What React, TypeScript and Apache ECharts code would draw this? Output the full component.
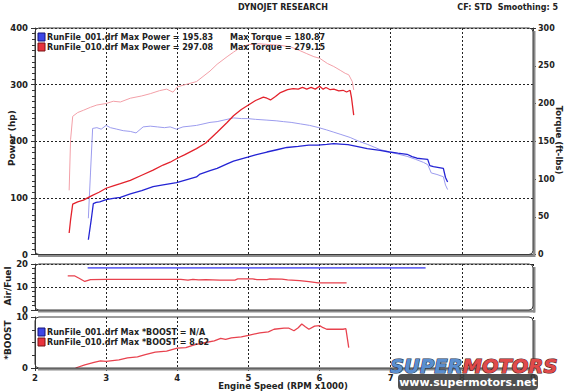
import React, { useEffect, useRef } from "react";
import * as echarts from "echarts";

// ---- data (RPM x1000, value) ----
const run001Power: [number, number][] = [
  [2.75, 26], [2.79, 61], [2.82, 90], [2.86, 92], [2.91, 93], [3.0, 97], [3.1, 99], [3.2, 101],
  [3.34, 107], [3.5, 113], [3.66, 120], [3.8, 123], [3.99, 127], [4.1, 131], [4.27, 137],
  [4.32, 142], [4.46, 148], [4.56, 152], [4.7, 160], [4.79, 165], [4.99, 172], [5.1, 176],
  [5.26, 181], [5.4, 185], [5.54, 189], [5.7, 191], [5.85, 193], [5.98, 193], [6.1, 194.5],
  [6.2, 195.8], [6.29, 195], [6.4, 194], [6.52, 191], [6.67, 187], [6.85, 184], [6.98, 181],
  [7.1, 179], [7.23, 177], [7.3, 173], [7.37, 170], [7.45, 169], [7.52, 168], [7.55, 157],
  [7.6, 155], [7.7, 153], [7.74, 152], [7.77, 136], [7.8, 128],
];
const run001Torque: [number, number][] = [
  [2.75, 48], [2.78, 108], [2.81, 167], [2.87, 168], [2.93, 166], [3.0, 171], [3.06, 168],
  [3.15, 166], [3.24, 164], [3.34, 163], [3.42, 161], [3.52, 169], [3.62, 170], [3.72, 169],
  [3.82, 168], [3.9, 169], [3.99, 166], [4.08, 169], [4.18, 170], [4.27, 171], [4.32, 172],
  [4.46, 175], [4.56, 176], [4.7, 179], [4.79, 180.9], [4.9, 180], [4.99, 180], [5.1, 179],
  [5.26, 178], [5.4, 177], [5.49, 176], [5.6, 175], [5.73, 173], [5.86, 171], [5.99, 168],
  [6.1, 165], [6.2, 162], [6.3, 159], [6.43, 155], [6.55, 150], [6.67, 146], [6.85, 139],
  [6.98, 136], [7.1, 133], [7.23, 130], [7.35, 126], [7.46, 122], [7.52, 119], [7.57, 108],
  [7.65, 106], [7.74, 103], [7.77, 92], [7.8, 86],
];
const run010Power: [number, number][] = [
  [2.48, 38], [2.5, 61], [2.53, 89], [2.6, 93], [2.68, 96], [2.8, 104], [2.9, 110], [3.0, 117],
  [3.1, 121], [3.2, 125], [3.34, 131], [3.5, 140], [3.66, 149], [3.8, 158], [3.9, 163],
  [4.0, 170], [4.1, 176], [4.27, 187], [4.4, 197], [4.56, 216], [4.7, 233], [4.79, 245],
  [4.9, 256], [5.0, 264], [5.1, 272], [5.21, 278], [5.26, 276], [5.31, 273], [5.38, 279],
  [5.45, 286], [5.55, 291], [5.63, 293], [5.7, 292], [5.76, 295], [5.82, 292], [5.88, 295],
  [5.94, 292], [6.0, 297.1], [6.05, 292], [6.09, 295], [6.15, 291], [6.2, 292], [6.27, 289],
  [6.33, 290], [6.38, 287], [6.43, 290], [6.45, 276], [6.48, 246],
];
const run010Torque: [number, number][] = [
  [2.48, 85], [2.5, 152], [2.53, 183], [2.6, 188], [2.68, 191], [2.78, 195], [2.87, 198],
  [3.0, 200], [3.1, 203], [3.2, 202], [3.34, 207], [3.5, 210], [3.62, 213], [3.75, 217],
  [3.85, 219], [3.94, 215], [4.0, 222], [4.15, 226], [4.27, 229], [4.46, 243], [4.56, 252],
  [4.7, 262], [4.79, 268], [4.9, 275], [5.0, 278], [5.15, 279.1], [5.3, 278], [5.45, 277],
  [5.59, 275], [5.7, 271], [5.82, 266], [5.92, 262], [6.0, 260], [6.11, 253], [6.2, 249],
  [6.29, 244], [6.36, 240], [6.41, 238], [6.46, 229], [6.48, 218],
];
const run001AirFuel: [number, number][] = [[2.74, 18.3], [7.49, 18.3]];
const run010AirFuel: [number, number][] = [
  [2.46, 14.8], [2.56, 14.8], [2.62, 13.8], [2.7, 12.4], [2.78, 13.2], [3.0, 13.3], [3.5, 13.3],
  [4.05, 13.3], [4.15, 13.0], [4.22, 13.3], [4.3, 13.1], [4.4, 13.2], [4.6, 13.0], [4.81, 13.0],
  [4.85, 13.5], [5.06, 13.5], [5.12, 13.2], [5.26, 13.2], [5.3, 13.5], [5.47, 13.4], [5.55, 13.1],
  [5.72, 12.8], [5.85, 12.3], [5.98, 11.8], [6.38, 11.8],
];
const run010Boost: [number, number][] = [
  [2.57, 0], [2.7, 0.6], [2.83, 1.1], [2.92, 1.4], [3.0, 1.3], [3.18, 1.6], [3.3, 2.0],
  [3.44, 2.2], [3.55, 2.6], [3.69, 3.1], [3.85, 3.3], [4.0, 3.9], [4.12, 4.0], [4.25, 4.6],
  [4.4, 5.0], [4.52, 5.3], [4.61, 5.8], [4.68, 5.6], [4.76, 5.9], [4.9, 6.1], [5.0, 6.4],
  [5.16, 6.9], [5.28, 7.1], [5.36, 7.6], [5.5, 7.8], [5.57, 7.8], [5.64, 7.3], [5.7, 7.9],
  [5.75, 8.62], [5.8, 8.1], [5.85, 7.6], [5.93, 8.2], [6.0, 8.3], [6.05, 7.9], [6.1, 7.6],
  [6.25, 7.6], [6.33, 7.6], [6.37, 7.7], [6.41, 4.0],
];

const legendMain = [
  "RunFile_001.drf Max Power = 195.83",
  "RunFile_010.drf Max Power = 297.08",
];
const legendTorque = ["Max Torque = 180.87", "Max Torque = 279.15"];
const legendBoost = [
  "RunFile_001.drf Max *BOOST = N/A",
  "RunFile_010.drf Max *BOOST = 8.62",
];

const FONT = "DejaVu Sans";
const TXT = "#222";
const DARK_RED = "#e3222c";
const LIGHT_RED = "#f3a0a8";
const DARK_BLUE = "#2424d4";
const LIGHT_BLUE = "#9c9cee";

const panels = [
  { x: 35, y: 28, w: 498, h: 226.5 },
  { x: 35, y: 264, w: 498, h: 46 },
  { x: 35, y: 317, w: 498, h: 51 },
];

function buildOption() {
  const labelStyle = { fontFamily: FONT, fontSize: 8.5, fontWeight: "bold" as const, color: TXT };
  const dash = { color: "#222", type: [2, 2] as any, width: 1 };

  const xAxis = panels.map((_, i) => ({
    type: "value",
    gridIndex: i,
    min: 2,
    max: 9,
    interval: 1,
    axisLine: { show: true, lineStyle: { color: "#333" } },
    axisTick: { show: i === 2, length: 3, lineStyle: { color: "#333" } },
    minorTick: { show: i === 2, splitNumber: 10, length: 2, lineStyle: { color: "#555" } },
    axisLabel: { show: i === 2, margin: 5, ...labelStyle },
    splitLine: { show: true, lineStyle: dash },
  }));

  const yAxis = [
    {
      type: "value", gridIndex: 0, min: 0, max: 400, interval: 100, position: "left",
      axisLine: { show: true, lineStyle: { color: "#333" } },
      axisTick: { show: true, length: 4, lineStyle: { color: "#333" } },
      minorTick: { show: true, splitNumber: 10, length: 3, lineStyle: { color: "#333" } },
      axisLabel: { margin: 7, ...labelStyle },
      splitLine: { show: true, lineStyle: dash },
    },
    {
      type: "value", gridIndex: 0, min: 0, max: 300, interval: 50, position: "right",
      axisLine: { show: true, lineStyle: { color: "#333" } },
      axisTick: { show: true, length: 3, lineStyle: { color: "#333" } },
      minorTick: { show: true, splitNumber: 5, length: 2, lineStyle: { color: "#333" } },
      axisLabel: { margin: 5, ...labelStyle, fontSize: 8 },
      splitLine: { show: false },
    },
    {
      type: "value", gridIndex: 1, min: 0, max: 20, interval: 10, position: "left",
      axisLine: { show: true, lineStyle: { color: "#333" } },
      axisTick: { show: true, length: 4, lineStyle: { color: "#333" } },
      minorTick: { show: true, splitNumber: 5, length: 3, lineStyle: { color: "#333" } },
      axisLabel: { margin: 7, ...labelStyle },
      splitLine: { show: true, lineStyle: dash },
    },
    {
      type: "value", gridIndex: 2, min: 0, max: 10, interval: 10, position: "left",
      axisLine: { show: true, lineStyle: { color: "#333" } },
      axisTick: { show: true, length: 4, lineStyle: { color: "#333" } },
      minorTick: { show: true, splitNumber: 4, length: 3, lineStyle: { color: "#333" } },
      axisLabel: { margin: 7, ...labelStyle },
      splitLine: { show: false },
    },
  ];

  const line = (data: [number, number][], color: string, xi: number, yi: number, w = 1) => ({
    type: "line",
    data,
    xAxisIndex: xi,
    yAxisIndex: yi,
    showSymbol: false,
    symbol: "none",
    lineStyle: { color, width: w },
    silent: true,
  });

  const series = [
    line(run001Torque, LIGHT_BLUE, 0, 1),
    line(run010Torque, LIGHT_RED, 0, 1),
    line(run001Power, DARK_BLUE, 0, 0, 1.3),
    line(run010Power, DARK_RED, 0, 0, 1.3),
    line(run001AirFuel, "#6a6af2", 1, 2, 1.6),
    line(run010AirFuel, "#e8424e", 1, 2, 1.3),
    line(run010Boost, "#e8424e", 2, 3, 1.3),
  ];

  const graphic: any[] = [];
  panels.forEach((p) => {
    graphic.push({
      type: "rect", z: 50, silent: true,
      shape: { x: p.x + 3, y: p.y + p.h, width: p.w - 1, height: 2.5 },
      style: { fill: "#8c8c8c" },
    });
    graphic.push({
      type: "rect", z: 50, silent: true,
      shape: { x: p.x + p.w, y: p.y + 3, width: 2.5, height: p.h - 0.5 },
      style: { fill: "#8c8c8c" },
    });
    graphic.push({
      type: "rect", z: 60, silent: true,
      shape: { x: p.x, y: p.y, width: p.w, height: p.h, r: 4 },
      style: { fill: "transparent", stroke: "#3a3a3a", lineWidth: 1 },
    });
  });

  const txt = (text: string, x: number, y: number, opts: any = {}) => ({
    type: "text", z: opts.z || 70, silent: true, x, y,
    rotation: opts.rotation || 0,
    style: {
      text,
      fill: opts.fill || TXT,
      font: `${opts.weight || "bold"} ${opts.size || 8.5}px '${FONT}'`,
      textAlign: opts.align || "left",
      textVerticalAlign: "middle",
      verticalAlign: "middle",
    },
  });

  graphic.push(txt("DYNOJET RESEARCH", 283, 7, { align: "center", size: 8 }));
  graphic.push(txt("CF: STD  Smoothing: 5", 558, 7, { align: "right", size: 8 }));
  graphic.push(txt("Power (hp)", 12, 138, { align: "center", rotation: Math.PI / 2, size: 9 }));
  graphic.push(txt("Torque (ft-lbs)", 559, 140, { align: "center", rotation: -Math.PI / 2, size: 8.5 }));
  graphic.push(txt("Air/Fuel", 8, 286, { align: "center", rotation: Math.PI / 2, size: 9 }));
  graphic.push(txt("*BOOST", 8, 340, { align: "center", rotation: Math.PI / 2, size: 9 }));
  graphic.push(txt("Engine Speed (RPM x1000)", 283, 386, { align: "center", size: 8.5 }));

  const square = (x: number, y: number, color: string, border: string) => ({
    type: "rect", z: 70, silent: true,
    shape: { x, y, width: 7, height: 8 },
    style: { fill: color, stroke: border, lineWidth: 1 },
  });
  const legendRowsY = [37, 47];
  legendRowsY.forEach((y, i) => {
    graphic.push(square(38, y - 4, i === 0 ? "#3c46e6" : "#e8323c", i === 0 ? "#15157a" : "#7a1515"));
    graphic.push(txt(legendMain[i], 47, y, { size: 8 }));
    graphic.push(txt(legendTorque[i], 230, y, { size: 8 }));
  });
  const boostRowsY = [332, 342];
  boostRowsY.forEach((y, i) => {
    graphic.push(square(38, y - 4, i === 0 ? "#3c46e6" : "#e8323c", i === 0 ? "#15157a" : "#7a1515"));
    graphic.push(txt(legendBoost[i], 47, y, { size: 8 }));
  });

  // watermark
  graphic.push({
    type: "rect", z: 80, silent: true,
    shape: { x: 398, y: 374, width: 140, height: 16, r: 4 },
    style: { fill: "#3c3c3c", opacity: 0.9 },
  });
  graphic.push({
    type: "text", z: 81, silent: true, x: 390, y: 366,
    style: {
      text: "{a|SUPER}{b|MOTORS}",
      verticalAlign: "middle",
      textVerticalAlign: "middle",
      rich: {
        a: { fontFamily: FONT, fontSize: 19.5, fontWeight: 900, fontStyle: "italic", fill: "#5b8fd0", color: "#5b8fd0", stroke: "#24344f", lineWidth: 1.2, textStroke: "#24344f", textStrokeWidth: 1.2 },
        b: { fontFamily: FONT, fontSize: 19.5, fontWeight: 900, fontStyle: "italic", fill: "#e04a4a", color: "#e04a4a", stroke: "#4f2020", lineWidth: 1.2, textStroke: "#4f2020", textStrokeWidth: 1.2 },
      },
    },
  });
  graphic.push(txt("www.supermotors.net", 468, 382, { align: "center", size: 11, fill: "#ffffff", z: 85 }));

  return {
    animation: false,
    backgroundColor: "#ffffff",
    textStyle: { fontFamily: FONT },
    grid: panels.map((p) => ({ left: p.x, top: p.y, width: p.w, height: p.h, containLabel: false })),
    xAxis,
    yAxis,
    series,
    graphic,
  };
}

export default function App() {
  const ref = useRef<HTMLDivElement>(null);
  useEffect(() => {
    const chart = echarts.init(ref.current!, null, { renderer: "svg" });
    chart.setOption(buildOption() as any);
    return () => chart.dispose();
  }, []);
  return (
    <div
      ref={ref}
      style={{ position: "fixed", left: 0, top: 0, width: 565, height: 392, background: "#fff" }}
    />
  );
}
